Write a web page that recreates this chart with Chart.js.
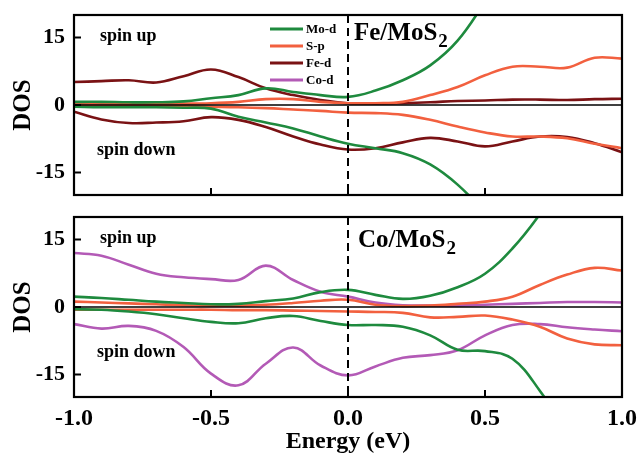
<!DOCTYPE html>
<html>
<head>
<meta charset="utf-8">
<script src="https://cdn.jsdelivr.net/npm/chart.js@4.4.0/dist/chart.umd.min.js"></script>
<style>
  html, body { margin: 0; padding: 0; background: #fff; }
  .panel { position: absolute; left: 0; }
  #topPanel { top: 0; }
  #botPanel { top: 205px; }
</style>
</head>
<body>
<div class="panel" id="topPanel"><canvas id="c1" width="638" height="205"></canvas></div>
<div class="panel" id="botPanel"><canvas id="c2" width="638" height="254"></canvas></div>
<script>
// energy grid (eV)
const energy = [-1.0, -0.9, -0.8, -0.7, -0.6, -0.5, -0.4, -0.3, -0.2, -0.1, 0.0,
                0.1, 0.2, 0.3, 0.4, 0.5, 0.6, 0.7, 0.8, 0.9, 1.0];

const xTicks = [-1.0, -0.5, 0.0, 0.5, 1.0];
const yTicks = [-15, 0, 15];

const legendNames = ['Mo-d', 'S-p', 'Fe-d', 'Co-d'];
const colors = {
    'Mo-d': '#1e8a3e',
    'S-p': '#f2603f',
    'Fe-d': '#7a1214',
    'Co-d': '#b35ab6'
};

// Fe/MoS2 panel
const feMoUp   = [0.7, 0.7, 0.6, 0.6, 0.8, 1.5, 2.2, 3.7, 2.9, 2.2, 1.8, 3.2, 5.5, 8.8, 14.3, 23, 33, 45, 58, 72, 88];
const feMoDown = [-0.4, -0.5, -0.5, -0.5, -0.6, -0.8, -2.6, -3.9, -5.2, -7.0, -8.6, -9.6, -10.7, -13.2, -17.7, -24, -32, -42, -54, -68, -84];
const feSpUp   = [0.2, 0.2, 0.2, 0.3, 0.3, 0.4, 0.7, 1.3, 1.3, 0.7, 0.4, 0.4, 0.7, 2.2, 4.0, 6.6, 8.5, 8.5, 8.3, 10.5, 10.3];
const feSpDown = [-0.2, -0.2, -0.3, -0.3, -0.3, -0.4, -0.5, -0.7, -1.0, -1.3, -1.7, -1.8, -2.2, -3.3, -4.8, -6.1, -7.0, -7.0, -7.4, -8.6, -9.6];
const feFeUp   = [5.1, 5.3, 5.5, 5.0, 6.4, 7.9, 6.2, 3.7, 2.2, 1.1, 0.4, 0.3, 0.4, 0.6, 0.9, 1.0, 1.2, 1.2, 1.1, 1.3, 1.4];
const feFeDown = [-1.5, -3.2, -4.0, -3.9, -3.6, -2.7, -3.3, -4.9, -7.0, -8.8, -9.9, -9.6, -8.3, -7.3, -8.1, -9.2, -8.1, -7.0, -7.1, -8.5, -10.5];

// Co/MoS2 panel
const coMoUp   = [2.3, 2.0, 1.6, 1.2, 0.9, 0.6, 0.7, 1.3, 1.9, 3.3, 3.8, 2.7, 1.8, 2.5, 4.4, 7.4, 13.0, 20.6, 30, 40, 52];
const coMoDown = [-0.5, -0.6, -1.0, -1.6, -2.5, -3.3, -3.6, -2.5, -2.0, -3.1, -4.0, -4.0, -4.4, -6.3, -9.5, -9.8, -11.5, -18.6, -28, -38, -50];
const coSpUp   = [1.2, 1.0, 0.8, 0.6, 0.4, 0.3, 0.3, 0.5, 0.9, 1.4, 1.6, 0.5, 0.2, 0.3, 0.7, 1.2, 2.3, 4.9, 7.2, 8.7, 8.1];
const coSpDown = [-0.6, -0.6, -0.6, -0.6, -0.6, -0.6, -0.7, -0.7, -0.8, -0.9, -1.0, -1.1, -1.3, -2.3, -2.2, -1.9, -2.8, -4.4, -7.0, -8.3, -8.5];
const coCoUp   = [12.0, 11.4, 9.4, 7.4, 6.6, 6.2, 6.0, 9.2, 6.0, 3.4, 2.3, 1.0, 0.4, 0.3, 0.3, 0.5, 0.7, 0.9, 1.1, 1.1, 1.0];
const coCoDown = [-3.8, -4.8, -4.2, -5.3, -8.9, -14.8, -17.4, -12.6, -9.0, -13.0, -15.2, -13.2, -11.3, -10.7, -9.6, -6.3, -4.0, -3.8, -4.5, -5.0, -5.4];

const FONT = '"Liberation Serif", "Times New Roman", serif';

function line(name, values) {
    return {
        label: name,
        data: energy.map((e, i) => ({ x: e, y: values[i] })),
        borderColor: colors[name],
        backgroundColor: colors[name],
        borderWidth: 2.6,
        pointRadius: 0,
        fill: false,
        tension: 0.4
    };
}

// frame, inward ticks, zero line, Fermi level and texts
function decorPlugin(info) {
    return {
        id: 'decor',
        afterDatasetsDraw(chart) {
            const ctx = chart.ctx;
            const a = chart.chartArea;
            const xs = chart.scales.x, ys = chart.scales.y;
            ctx.save();
            ctx.strokeStyle = '#000';

            // zero line
            ctx.lineWidth = 1.6;
            ctx.beginPath();
            ctx.moveTo(a.left, ys.getPixelForValue(0));
            ctx.lineTo(a.right, ys.getPixelForValue(0));
            ctx.stroke();

            // dashed line at E = 0
            ctx.lineWidth = 2;
            ctx.setLineDash([8, 5]);
            ctx.beginPath();
            ctx.moveTo(xs.getPixelForValue(0), a.top);
            ctx.lineTo(xs.getPixelForValue(0), a.bottom);
            ctx.stroke();
            ctx.setLineDash([]);

            // frame
            ctx.lineWidth = 2.2;
            ctx.strokeRect(a.left, a.top, a.right - a.left, a.bottom - a.top);

            // ticks pointing inside
            ctx.lineWidth = 2;
            xTicks.forEach(v => {
                const px = xs.getPixelForValue(v);
                ctx.beginPath();
                ctx.moveTo(px, a.bottom);
                ctx.lineTo(px, a.bottom - 7);
                ctx.stroke();
            });
            yTicks.forEach(v => {
                const py = ys.getPixelForValue(v);
                ctx.beginPath();
                ctx.moveTo(a.left, py);
                ctx.lineTo(a.left + 7, py);
                ctx.stroke();
            });

            // spin labels
            ctx.fillStyle = '#000';
            ctx.textBaseline = 'alphabetic';
            ctx.textAlign = 'left';
            ctx.font = 'bold 18px ' + FONT;
            ctx.fillText('spin up', a.left + 26, a.top + 26);
            ctx.fillText('spin down', a.left + 23, a.top + 140);

            // system name with subscript
            ctx.font = 'bold 25px ' + FONT;
            const main = info.title;
            ctx.fillText(main, a.left + info.titleDx, a.top + info.titleDy);
            const w = ctx.measureText(main).width;
            ctx.font = 'bold 19px ' + FONT;
            ctx.fillText('2', a.left + info.titleDx + w + 1, a.top + info.titleDy + 7);

            // legend
            if (info.legend) {
                ctx.font = 'bold 13px ' + FONT;
                ctx.textBaseline = 'middle';
                legendNames.forEach((n, i) => {
                    const y = 29 + i * 17;
                    ctx.strokeStyle = colors[n];
                    ctx.lineWidth = 3;
                    ctx.beginPath();
                    ctx.moveTo(270, y);
                    ctx.lineTo(303, y);
                    ctx.stroke();
                    ctx.fillText(n, 306, y + 1);
                });
            }
            ctx.restore();
        }
    };
}

function makePanel(canvasId, datasets, info) {
    return new Chart(document.getElementById(canvasId), {
        type: 'line',
        data: { datasets: datasets },
        options: {
            responsive: false,
            animation: false,
            layout: { padding: { top: info.padTop, right: 16, left: 0, bottom: 0 } },
            plugins: { legend: { display: false }, tooltip: { enabled: false } },
            scales: {
                x: {
                    type: 'linear',
                    min: -1,
                    max: 1,
                    afterBuildTicks: s => { s.ticks = xTicks.map(v => ({ value: v })); },
                    afterFit: s => {
                        s.height = info.xHeight;
                        s.paddingLeft = 0;
                        s.paddingRight = 0;
                    },
                    grid: { display: false, drawTicks: false },
                    border: { display: false },
                    ticks: {
                        display: info.showX,
                        padding: 7,
                        color: '#000',
                        font: { family: FONT, size: 24, weight: 'bold' },
                        callback: v => v.toFixed(1)
                    },
                    title: {
                        display: info.showX,
                        text: 'Energy (eV)',
                        color: '#000',
                        padding: { top: 0, bottom: 3 },
                        font: { family: FONT, size: 24, weight: 'bold' }
                    }
                },
                y: {
                    min: -20,
                    max: 20,
                    afterBuildTicks: s => { s.ticks = yTicks.map(v => ({ value: v })); },
                    afterFit: s => {
                        s.width = 74;
                        s.paddingTop = 0;
                        s.paddingBottom = 0;
                    },
                    grid: { display: false, drawTicks: false },
                    border: { display: false },
                    ticks: {
                        padding: 9,
                        color: '#000',
                        font: { family: FONT, size: 22, weight: 'bold' }
                    },
                    title: {
                        display: true,
                        text: 'DOS',
                        color: '#000',
                        padding: { top: 9, bottom: 0 },
                        font: { family: FONT, size: 25, weight: 'bold' }
                    }
                }
            }
        },
        plugins: [decorPlugin(info)]
    });
}

makePanel('c1', [
    line('Mo-d', feMoUp), line('Mo-d', feMoDown),
    line('S-p', feSpUp), line('S-p', feSpDown),
    line('Fe-d', feFeUp), line('Fe-d', feFeDown)
], { padTop: 15, xHeight: 10, showX: false, legend: true, title: 'Fe/MoS', titleDx: 280, titleDy: 25 });

makePanel('c2', [
    line('Mo-d', coMoUp), line('Mo-d', coMoDown),
    line('S-p', coSpUp), line('S-p', coSpDown),
    line('Co-d', coCoUp), line('Co-d', coCoDown)
], { padTop: 12, xHeight: 62, showX: true, legend: false, title: 'Co/MoS', titleDx: 284, titleDy: 30 });
</script>
</body>
</html>
